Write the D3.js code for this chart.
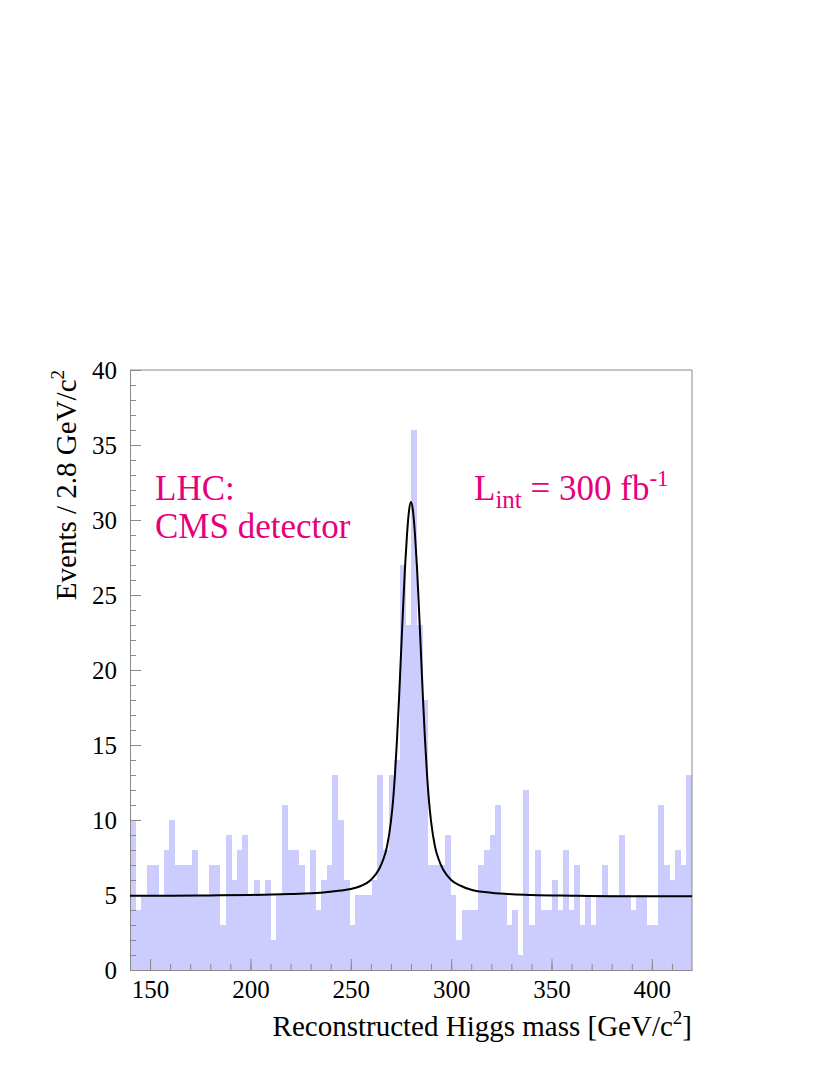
<!DOCTYPE html>
<html>
<head>
<meta charset="utf-8">
<script src="https://cdn.jsdelivr.net/npm/d3@7"></script>
<style>
  html, body { margin: 0; padding: 0; background: #ffffff; }
  svg { display: block; }
  text { font-family: "Liberation Serif", "Times New Roman", serif; }
</style>
</head>
<body>
<script>
// ---------- data ----------
const binStart = 140;      // GeV/c^2
const binWidth = 2.8;      // GeV/c^2
const counts = [
  10, 4, 5, 7, 7, 5, 8, 10, 7, 7,
  7, 8, 5, 5, 7, 7, 3, 9, 6, 8,
  9, 5, 6, 5, 6, 2, 5, 11, 8, 8,
  7, 5, 8, 4, 6, 7, 13, 10, 6, 3,
  5, 5, 5, 6, 13, 8, 13, 14, 27, 23,
  36, 23, 18, 7, 7, 7, 9, 5, 2, 4,
  4, 4, 7, 8, 9, 11, 5, 3, 4, 1,
  12, 3, 8, 4, 4, 6, 4, 8, 4, 7,
  3, 5, 3, 5, 7, 5, 5, 9, 5, 4,
  5, 5, 3, 3, 11, 7, 6, 8, 7, 13
];
// fitted curve
const fitMass  = [140, 160, 180, 200, 220, 235, 245, 250, 255, 260, 264, 266, 268, 270, 271, 272, 273, 274, 275, 276, 277, 278, 279, 280,
                  281, 282, 283, 284, 285, 286, 287, 288, 289, 290, 292, 294, 296, 300, 305, 310, 320, 340, 360, 380, 400, 420];
const fitValue = [4.95, 4.95, 4.97, 5.0, 5.07, 5.15, 5.3, 5.4, 5.6, 6.0, 6.7, 7.3, 8.2, 9.9, 11.2, 13.0, 15.3, 18.0, 21.0, 24.0, 26.8, 29.0, 30.6, 31.2,
                  30.6, 29.0, 26.8, 24.0, 21.0, 18.0, 15.3, 13.0, 11.2, 9.9, 8.2, 7.3, 6.7, 6.0, 5.6, 5.35, 5.15, 5.0, 4.95, 4.92, 4.92, 4.92];
const xMajorTicks = [150, 200, 250, 300, 350, 400];
const yMajorTicks = [0, 5, 10, 15, 20, 25, 30, 35, 40];

// ---------- layout ----------
const W = 830, H = 1075;
const pL = 130, pR = 692, pT = 370, pB = 970;
const magenta = "#e6007e";
const axisGray = "#8a8a8a";
const serif = "'Liberation Serif', 'Times New Roman', serif";

const svg = d3.select("body").append("svg").attr("width", W).attr("height", H);

const x = d3.scaleLinear().domain([140, 420]).range([pL, pR]);
const y = d3.scaleLinear().domain([0, 40]).range([pB, pT]);

// histogram bars
const bins = counts.map((c, i) => ({ x0: binStart + i * binWidth, x1: binStart + (i + 1) * binWidth, c }));
svg.append("g")
  .selectAll("rect")
  .data(bins)
  .join("rect")
  .attr("x", d => x(d.x0))
  .attr("width", d => x(d.x1) - x(d.x0) + 0.4)
  .attr("y", d => y(d.c))
  .attr("height", d => y(0) - y(d.c))
  .attr("fill", "#ccccff")
  .attr("shape-rendering", "crispEdges");

// frame (top and right)
svg.append("path")
  .attr("d", `M${pL},${pT}H${pR}V${pB}`)
  .attr("fill", "none").attr("stroke", axisGray).attr("stroke-width", 1);

// y axis: minor and major ticks pointing inward
const yMinor = d3.axisLeft(y).tickValues(d3.range(0, 41, 1)).tickSize(-6).tickSizeOuter(0).tickFormat("");
const yMajor = d3.axisLeft(y).tickValues(yMajorTicks).tickSize(-11).tickSizeOuter(0).tickPadding(13);
const gyMinor = svg.append("g").attr("transform", `translate(${pL},0)`).call(yMinor);
const gy = svg.append("g").attr("transform", `translate(${pL},0)`).call(yMajor);

// x axis
const xMinor = d3.axisBottom(x).tickValues(d3.range(150, 420, 10)).tickSize(-6).tickSizeOuter(0).tickFormat("");
const xMajor = d3.axisBottom(x).tickValues(xMajorTicks).tickSize(-11).tickSizeOuter(0).tickPadding(10);
const gxMinor = svg.append("g").attr("transform", `translate(0,${pB})`).call(xMinor);
const gx = svg.append("g").attr("transform", `translate(0,${pB})`).call(xMajor);

[gyMinor, gy, gxMinor, gx].forEach(g => {
  g.attr("font-family", null).attr("font-size", null);
  g.selectAll("path.domain").attr("stroke", axisGray);
  g.selectAll(".tick line").attr("stroke", axisGray);
  g.selectAll(".tick text").attr("fill", "#000")
    .style("font-size", "25px").style("font-family", serif);
});

// fitted curve
const line = d3.line()
  .x((d, i) => x(fitMass[i]))
  .y((d, i) => y(fitValue[i]))
  .curve(d3.curveMonotoneX);
svg.append("path")
  .datum(fitValue)
  .attr("d", line)
  .attr("fill", "none")
  .attr("stroke", "#000")
  .attr("stroke-width", 2);

// axis titles
const xt = svg.append("text")
  .attr("x", pR).attr("y", 1036)
  .attr("text-anchor", "end")
  .style("font-family", serif).style("font-size", "29px");
xt.append("tspan").text("Reconstructed Higgs mass [GeV/c");
xt.append("tspan").style("font-size", "19px").attr("dy", -12).text("2");
xt.append("tspan").attr("dy", 12).text("]");

const yt = svg.append("text")
  .attr("transform", `translate(76,${pT}) rotate(-90)`)
  .attr("text-anchor", "end")
  .style("font-family", serif).style("font-size", "29px");
yt.append("tspan").text("Events / 2.8 GeV/c");
yt.append("tspan").style("font-size", "19px").attr("dy", -12).text("2");

// annotations
svg.append("text").attr("x", 155).attr("y", 500)
  .style("font-family", serif).style("font-size", "35px").attr("fill", magenta)
  .text("LHC:");
svg.append("text").attr("x", 155).attr("y", 538)
  .style("font-family", serif).style("font-size", "35px").attr("fill", magenta)
  .text("CMS detector");

const lt = svg.append("text").attr("x", 474).attr("y", 500)
  .style("font-family", serif).style("font-size", "35px").attr("fill", magenta);
lt.append("tspan").text("L");
lt.append("tspan").style("font-size", "25px").attr("dy", 8).text("int");
lt.append("tspan").attr("dy", -8).text(" = 300 fb");
lt.append("tspan").style("font-size", "23px").attr("dy", -14).text("-1");
</script>
</body>
</html>
